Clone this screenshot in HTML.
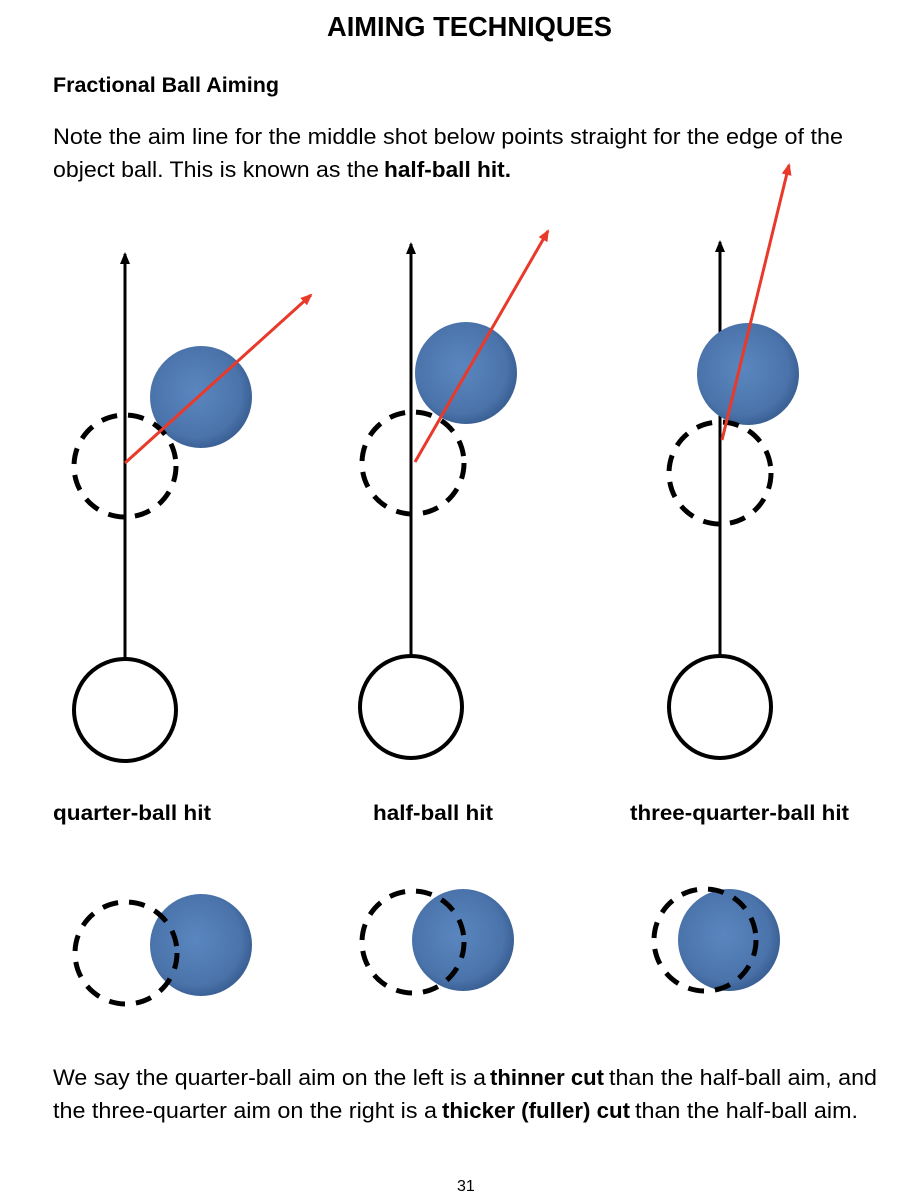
<!DOCTYPE html>
<html><head><meta charset="utf-8"><style>
html,body{margin:0;padding:0;background:#fff;}
svg{display:block;}
text{font-family:"Liberation Sans",sans-serif;fill:#000;}
.b{font-weight:bold;}
</style></head><body>
<svg width="907" height="1200" viewBox="0 0 907 1200" xmlns="http://www.w3.org/2000/svg">
<defs>
<radialGradient id="bl" cx="0.45" cy="0.45" r="0.6">
<stop offset="0" stop-color="#5a86bf"/>
<stop offset="0.75" stop-color="#4a73aa"/>
<stop offset="1" stop-color="#34598c"/>
</radialGradient>
<marker id="ak" markerWidth="12" markerHeight="10" refX="10" refY="5" orient="auto" markerUnits="userSpaceOnUse"><path d="M0,0 L12,5 L0,10 Z" fill="#000"/></marker>
<marker id="ar" markerWidth="12" markerHeight="12" refX="10" refY="6" orient="auto" markerUnits="userSpaceOnUse"><path d="M0,1 L12,6 L0,11 Z" fill="#e8392a"/></marker>
</defs>
<text class="b" x="327" y="36" font-size="28" textLength="285" lengthAdjust="spacingAndGlyphs">AIMING TECHNIQUES</text>
<text class="b" x="53" y="92" font-size="21" textLength="226" lengthAdjust="spacingAndGlyphs">Fractional Ball Aiming</text>
<text x="53" y="144" font-size="22" textLength="790" lengthAdjust="spacingAndGlyphs">Note the aim line for the middle shot below points straight for the edge of the</text>
<text x="53" y="177" font-size="22" textLength="326" lengthAdjust="spacingAndGlyphs">object ball.  This is known as the</text>
<text class="b" x="384" y="177" font-size="22" textLength="127" lengthAdjust="spacingAndGlyphs">half-ball hit.</text>

<g fill="none" stroke="#000" stroke-width="3">
<line x1="125" y1="660" x2="125" y2="254" marker-end="url(#ak)"/>
<line x1="411" y1="658" x2="411" y2="244" marker-end="url(#ak)"/>
<line x1="720" y1="658" x2="720" y2="242" marker-end="url(#ak)"/>
</g>
<g fill="none" stroke="#000" stroke-width="4">
<circle cx="125" cy="710" r="51"/>
<circle cx="411" cy="707" r="51"/>
<circle cx="720" cy="707" r="51"/>
</g>
<g fill="url(#bl)">
<circle cx="201" cy="397" r="51"/>
<circle cx="466" cy="373" r="51"/>
<circle cx="748" cy="374" r="51"/>
<circle cx="201" cy="945" r="51"/>
<circle cx="463" cy="940" r="51"/>
<circle cx="729" cy="940" r="51"/>
</g>
<g fill="none" stroke="#000" stroke-width="5" stroke-dasharray="16 11">
<circle cx="125" cy="466" r="51"/>
<circle cx="413" cy="463" r="51"/>
<circle cx="720" cy="473" r="51"/>
<circle cx="126" cy="953" r="51"/>
<circle cx="413" cy="942" r="51"/>
<circle cx="705" cy="940" r="51"/>
</g>
<g stroke="#e8392a" stroke-width="3" fill="none">
<line x1="125" y1="463" x2="311" y2="295" marker-end="url(#ar)"/>
<line x1="415" y1="462" x2="548" y2="231" marker-end="url(#ar)"/>
<line x1="722" y1="440" x2="789" y2="165" marker-end="url(#ar)"/>
</g>

<text class="b" x="53" y="820" font-size="21" textLength="158" lengthAdjust="spacingAndGlyphs">quarter-ball hit</text>
<text class="b" x="373" y="820" font-size="21" textLength="120" lengthAdjust="spacingAndGlyphs">half-ball hit</text>
<text class="b" x="630" y="820" font-size="21" textLength="219" lengthAdjust="spacingAndGlyphs">three-quarter-ball hit</text>

<text x="53" y="1085" font-size="22" textLength="433" lengthAdjust="spacingAndGlyphs">We say the quarter-ball aim on the left is a</text>
<text class="b" x="490" y="1085" font-size="22" textLength="114" lengthAdjust="spacingAndGlyphs">thinner cut</text>
<text x="609" y="1085" font-size="22" textLength="268" lengthAdjust="spacingAndGlyphs">than the half-ball aim, and</text>
<text x="53" y="1118" font-size="22" textLength="384" lengthAdjust="spacingAndGlyphs">the three-quarter aim on the right is a</text>
<text class="b" x="442" y="1118" font-size="22" textLength="188" lengthAdjust="spacingAndGlyphs">thicker (fuller) cut</text>
<text x="635" y="1118" font-size="22" textLength="223" lengthAdjust="spacingAndGlyphs">than the half-ball aim.</text>
<text x="457" y="1191" font-size="16">31</text>
</svg>
</body></html>
